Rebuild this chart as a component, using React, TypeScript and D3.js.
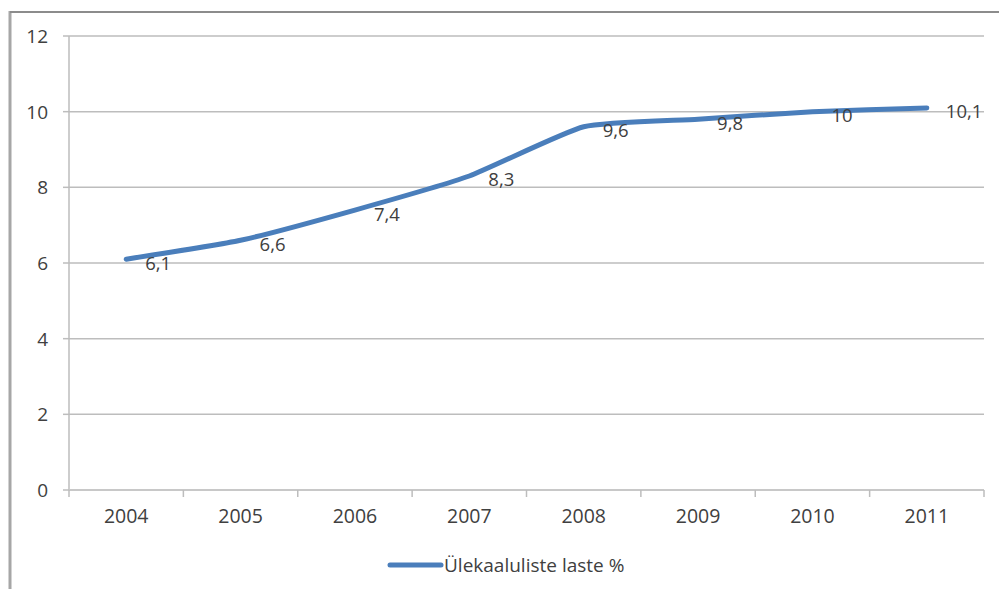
import React from "react";
import * as d3 from "d3";

const years = ["2004", "2005", "2006", "2007", "2008", "2009", "2010", "2011"];
const values = [6.1, 6.6, 7.4, 8.3, 9.6, 9.8, 10, 10.1];
const yTicks = [0, 2, 4, 6, 8, 10, 12];
const seriesName = "Ülekaaluliste laste %";

const W = 999;
const H = 589;
const M = { left: 69, right: 984, top: 36, bottom: 490 };
const FONT = "'Open Sans', sans-serif";
const BLUE = "#4a7ebb";

export default function App() {
  const x = d3.scaleBand<string>().domain(years).range([M.left, M.right]);
  const y = d3.scaleLinear().domain([0, 12]).range([M.bottom, M.top]);
  const cx = (yr: string) => (x(yr) ?? 0) + x.bandwidth() / 2;

  const line = d3
    .line<number>()
    .x((_, i) => cx(years[i]))
    .y((v) => y(v))
    .curve(d3.curveCardinal.tension(0.5));

  const fmt = (v: number) => String(v).replace(".", ",");
  const boundaries = years.map((yr) => x(yr) ?? 0).concat([M.right]);

  return (
    <svg
      width={W}
      height={H}
      style={{ position: "absolute", left: 0, top: 0, background: "#fff" }}
      fontFamily={FONT}
    >
      {/* outer chart frame */}
      <line x1={10} x2={10} y1={11} y2={H} stroke="#a6a6a6" strokeWidth={3} />
      <line x1={10} x2={W} y1={12} y2={12} stroke="#8c8c8c" strokeWidth={2} />

      {/* horizontal gridlines */}
      {yTicks.map((t) => (
        <g key={t}>
          {t > 0 && (
            <line x1={M.left} x2={M.right} y1={y(t)} y2={y(t)} stroke="#bdbdbd" strokeWidth={1.5} />
          )}
          <line x1={M.left - 6} x2={M.left} y1={y(t)} y2={y(t)} stroke="#bdbdbd" strokeWidth={1.5} />
          <text
            x={48}
            y={y(t)}
            textAnchor="end"
            dominantBaseline="central"
            fontSize={19}
            fill="#404040"
          >
            {t}
          </text>
        </g>
      ))}

      {/* axes */}
      <line x1={M.left} x2={M.left} y1={M.top} y2={M.bottom} stroke="#bdbdbd" strokeWidth={1.5} />
      <line x1={M.left} x2={M.right} y1={M.bottom} y2={M.bottom} stroke="#c8c8c8" strokeWidth={2} />
      {boundaries.map((bx, i) => (
        <line key={i} x1={bx} x2={bx} y1={M.bottom} y2={M.bottom + 7} stroke="#bdbdbd" strokeWidth={1.5} />
      ))}
      {years.map((yr) => (
        <text
          key={yr}
          x={cx(yr)}
          y={M.bottom + 33}
          textAnchor="middle"
          fontSize={19.5}
          fill="#404040"
        >
          {yr}
        </text>
      ))}

      {/* series */}
      <path d={line(values) ?? ""} fill="none" stroke={BLUE} strokeWidth={5} strokeLinecap="round" strokeLinejoin="round" />
      {values.map((v, i) => (
        <text
          key={i}
          x={cx(years[i]) + 19}
          y={y(v) + 3}
          dominantBaseline="central"
          fontSize={18.5}
          fill="#404040"
        >
          {fmt(v)}
        </text>
      ))}

      {/* legend */}
      <line x1={390} x2={441} y1={565} y2={565} stroke={BLUE} strokeWidth={5} strokeLinecap="round" />
      <text x={444} y={565} dominantBaseline="central" fontSize={19} fill="#404040">
        {seriesName}
      </text>
    </svg>
  );
}
